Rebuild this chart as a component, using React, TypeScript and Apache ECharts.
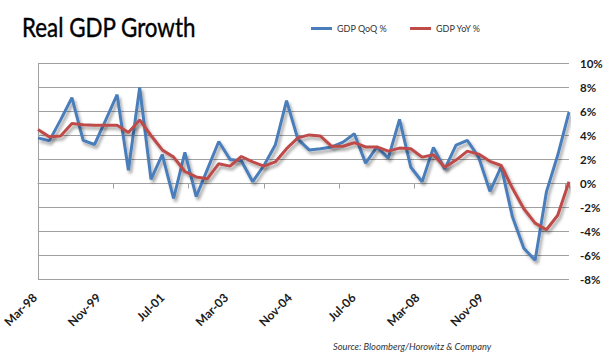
import React, { useEffect, useRef } from "react";
import * as echarts from "echarts";

// Quarterly data, Mar-98 .. Dec-09 (48 quarters)
const qoq: number[] = [
  3.8, 3.55, 5.3, 7.15, 3.6, 3.25, 5.3, 7.4, 1.1, 8.0, 0.35, 2.4,
  -1.25, 2.6, -1.1, 1.2, 3.5, 2.0, 1.9, 0.15, 1.5, 3.2, 6.9, 3.7,
  2.8, 2.9, 3.05, 3.45, 4.15, 1.7, 3.05, 2.1, 5.35, 1.35, 0.15, 3.0,
  1.2, 3.2, 3.6, 2.2, -0.65, 1.4, -2.8, -5.4, -6.4, -0.7, 2.35, 5.95,
];
const yoy: number[] = [
  4.5, 3.9, 3.95, 5.0, 4.9, 4.85, 4.85, 4.85, 4.25, 5.3, 4.0, 2.8,
  2.2, 1.0, 0.55, 0.4, 1.65, 1.45, 2.25, 1.8, 1.45, 1.8, 2.9, 3.8,
  4.05, 3.95, 3.1, 3.1, 3.4, 3.05, 3.05, 2.7, 2.95, 2.9, 2.2, 2.4,
  1.35, 1.95, 2.7, 2.45, 1.85, 1.5, -0.4, -2.1, -3.3, -3.85, -2.65, 0.15,
];
const tickLabels: string[] = ["Mar-98", "Nov-99", "Jul-01", "Mar-03", "Nov-04", "Jul-06", "Mar-08", "Nov-09"];
const seriesNames: string[] = ["GDP QoQ %", "GDP YoY %"];

const GRID = "#a0a0a0";

export default function App() {
  const ref = useRef<HTMLDivElement>(null);
  useEffect(() => {
    if (!ref.current) return;
    const chart = echarts.init(ref.current, undefined, { renderer: "svg" });
    const shadow = {
      shadowColor: "rgba(0,0,0,0.35)",
      shadowBlur: 3,
      shadowOffsetX: 2,
      shadowOffsetY: 3,
    };
    chart.setOption({
      animation: false,
      backgroundColor: "#ffffff",
      legend: {
        left: 311,
        top: 24,
        padding: 0,
        itemGap: 23,
        itemWidth: 21,
        itemHeight: 3,
        icon: "rect",
        data: seriesNames,
        textStyle: { fontFamily: "Lato", fontSize: 9, color: "#333" },
      },
      graphic: [
        {
          type: "text",
          x: 22,
          y: 14,
          scaleX: 0.86,
          style: {
            text: "Real GDP Growth",
            font: "normal 26px Lato",
            fill: "#000",
            stroke: "#000",
            lineWidth: 0.4,
          },
        },
        {
          type: "text",
          x: 333,
          y: 342,
          style: {
            text: "Source: Bloomberg/Horowitz & Company",
            font: "italic 9.3px Lato",
            fill: "#333",
          },
        },
      ],
      grid: [
        { left: 38, right: 41, top: 63.5, height: 216, containLabel: false },
        { left: 31, width: 450, top: 63.5, height: 216, containLabel: false },
      ],
      xAxis: [
        {
          type: "value",
          gridIndex: 0,
          min: 0,
          max: qoq.length - 1,
          interval: 20 / 3,
          splitLine: { show: false },
          axisLabel: { show: false },
          axisLine: { show: true, onZero: true, onZeroAxisIndex: 0, lineStyle: { color: GRID } },
          axisTick: { show: true, length: 5, lineStyle: { color: GRID } },
        },
        {
          type: "value",
          gridIndex: 1,
          min: 0,
          max: tickLabels.length - 1,
          interval: 1,
          splitLine: { show: false },
          axisLine: { show: false, onZero: false },
          axisTick: { show: false },
          axisLabel: {
            rotate: 45,
            margin: 16,
            hideOverlap: false,
            showMinLabel: true,
            showMaxLabel: true,
            formatter: (v: number) => tickLabels[Math.round(v)] ?? "",
            fontFamily: "Lato",
            fontWeight: "bold",
            fontSize: 12,
            color: "#1a1a1a",
          },
        },
      ],
      yAxis: [
        {
          type: "value",
          gridIndex: 0,
          position: "left",
          min: -8,
          max: 10,
          interval: 2,
          axisLabel: { show: false },
          axisTick: { show: false },
          axisLine: { show: true, lineStyle: { color: GRID } },
          splitLine: { show: true, lineStyle: { color: GRID, width: 1 } },
        },
        {
          type: "value",
          gridIndex: 0,
          position: "right",
          min: -8,
          max: 10,
          interval: 2,
          axisLine: { show: false },
          axisTick: { show: false },
          splitLine: { show: false },
          axisLabel: {
            formatter: "{value}%",
            align: "left",
            margin: 11,
            fontFamily: "Lato",
            fontWeight: "bold",
            fontSize: 11.5,
            color: "#1a1a1a",
          },
        },
        { type: "value", gridIndex: 1, show: false, min: 0, max: 1 },
      ],
      series: [
        {
          name: seriesNames[0],
          type: "line",
          xAxisIndex: 0,
          yAxisIndex: 0,
          data: qoq.map((v, i) => [i, v]),
          symbol: "none",
          color: "#4a7ebb",
          lineStyle: { width: 3, color: "#4a7ebb", ...shadow },
          z: 3,
        },
        {
          name: seriesNames[1],
          type: "line",
          xAxisIndex: 0,
          yAxisIndex: 0,
          data: yoy.map((v, i) => [i, v]),
          symbol: "none",
          color: "#be4b48",
          lineStyle: { width: 3, color: "#be4b48", ...shadow },
          z: 4,
        },
      ],
    });
    return () => chart.dispose();
  }, []);
  return (
    <div
      ref={ref}
      style={{ position: "fixed", left: 0, top: 0, width: 610, height: 363, background: "#fff" }}
    />
  );
}
